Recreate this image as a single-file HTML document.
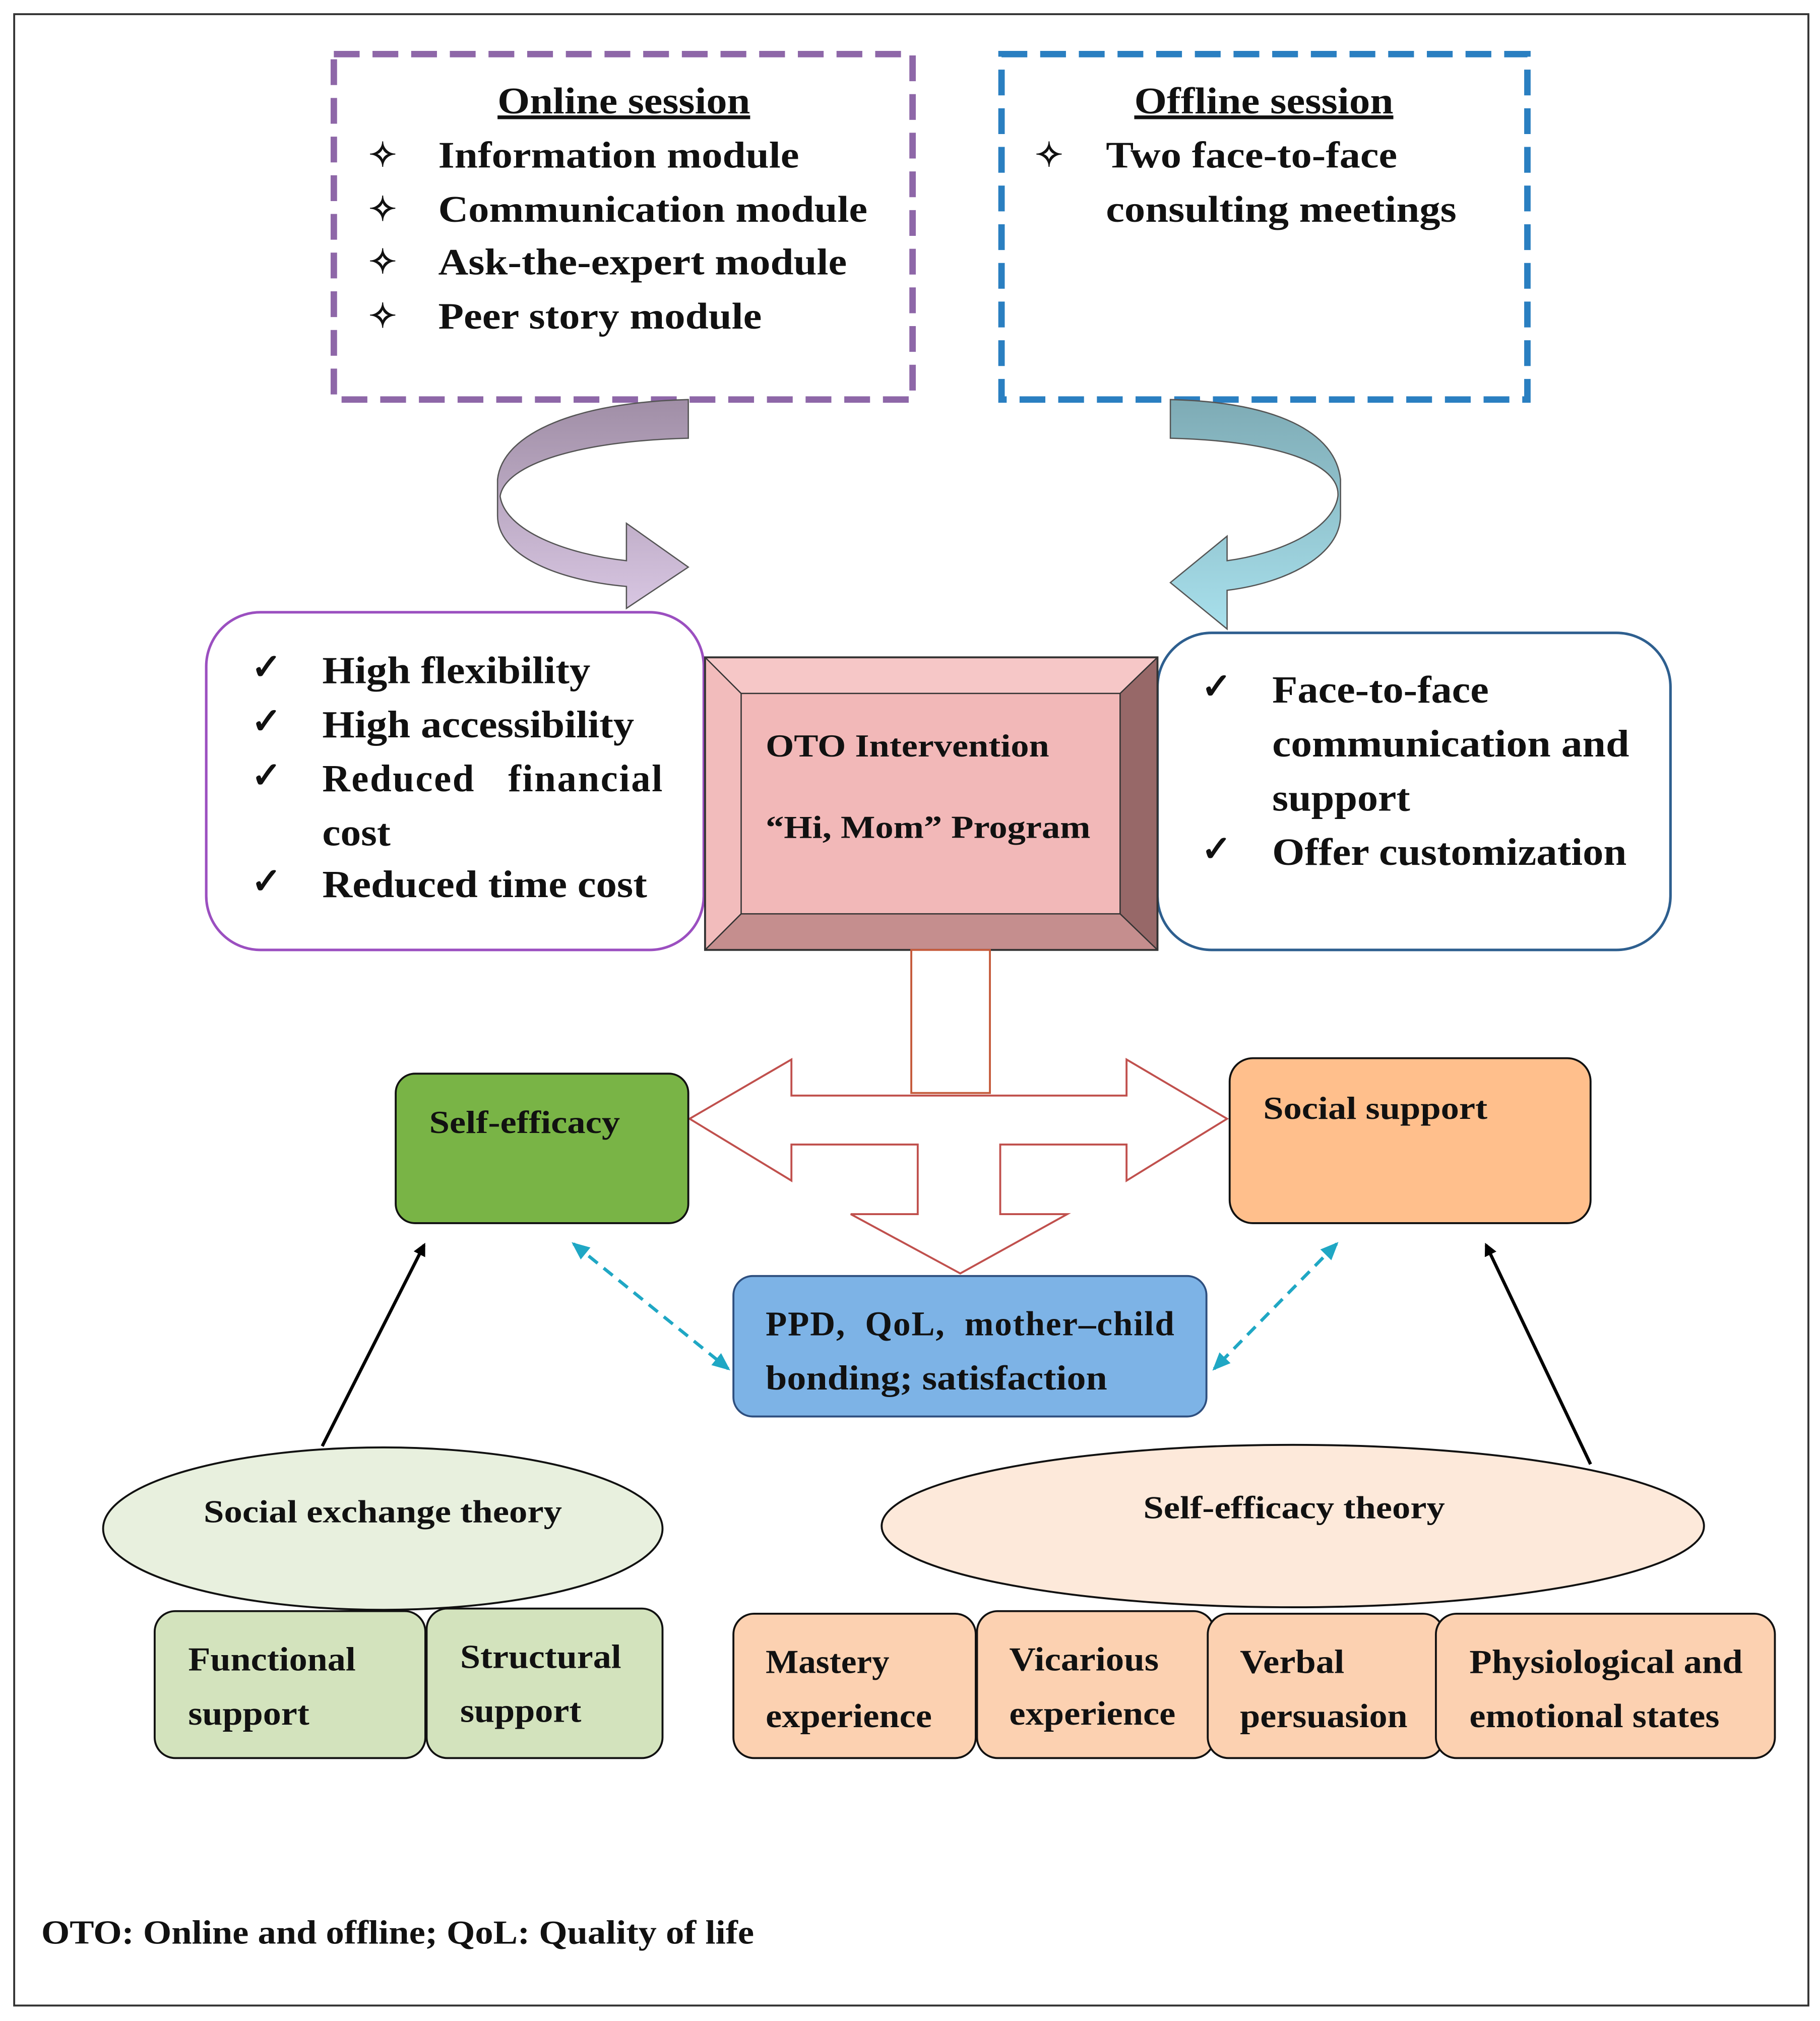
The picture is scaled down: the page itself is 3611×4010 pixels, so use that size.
<!DOCTYPE html>
<html><head><meta charset="utf-8"><style>
html,body{margin:0;padding:0;background:#fff;}
svg{display:block;}
text{font-family:"Liberation Serif",serif;font-weight:bold;fill:#111;}
</style></head><body>
<svg width="3611" height="4010" viewBox="0 0 1412 1568" preserveAspectRatio="none" xmlns="http://www.w3.org/2000/svg">
<defs>
<linearGradient id="gp" x1="0" y1="0" x2="0" y2="1"><stop offset="0" stop-color="#a08ea6"/><stop offset="1" stop-color="#d8c6e2"/></linearGradient>
<linearGradient id="gb" x1="0" y1="0" x2="0" y2="1"><stop offset="0" stop-color="#7eabb5"/><stop offset="1" stop-color="#a8e0ec"/></linearGradient>
<marker id="ah" markerWidth="10" markerHeight="10" refX="8" refY="5" orient="auto" markerUnits="userSpaceOnUse"><path d="M0,0 L10,5 L0,10 Z" fill="#000"/></marker>
<marker id="ac" markerWidth="14" markerHeight="12" refX="12" refY="6" orient="auto-start-reverse" markerUnits="userSpaceOnUse"><path d="M0,0 L14,6 L0,12 Z" fill="#1fa7c4"/></marker>
</defs>
<rect x="0" y="0" width="1412" height="1568" fill="#fff"/>
<rect x="11" y="11" width="1392" height="1545" fill="none" stroke="#333" stroke-width="1.5"/>

<g lengthAdjust="spacingAndGlyphs">
<!-- Online session -->
<rect x="259" y="42" width="449" height="268" fill="none" stroke="#8e67a8" stroke-width="5" stroke-dasharray="20,10"/>
<text x="386" y="88" font-size="29" textLength="196" lengthAdjust="spacingAndGlyphs" text-decoration="underline">Online session</text>
<text x="286" y="129" font-size="26">✧</text><text x="340" y="130" font-size="29" textLength="280" lengthAdjust="spacingAndGlyphs">Information module</text>
<text x="286" y="171" font-size="26">✧</text><text x="340" y="172" font-size="29" textLength="333" lengthAdjust="spacingAndGlyphs">Communication module</text>
<text x="286" y="212" font-size="26">✧</text><text x="340" y="213" font-size="29" textLength="317" lengthAdjust="spacingAndGlyphs">Ask-the-expert module</text>
<text x="286" y="254" font-size="26">✧</text><text x="340" y="255" font-size="29" textLength="251" lengthAdjust="spacingAndGlyphs">Peer story module</text>

<!-- Offline session -->
<rect x="777" y="42" width="408" height="268" fill="none" stroke="#2a7fc1" stroke-width="5" stroke-dasharray="20,10"/>
<text x="880" y="88" font-size="29" textLength="201" lengthAdjust="spacingAndGlyphs" text-decoration="underline">Offline session</text>
<text x="803" y="129" font-size="26">✧</text><text x="858" y="130" font-size="29" textLength="226" lengthAdjust="spacingAndGlyphs">Two face-to-face</text>
<text x="858" y="172" font-size="29" textLength="272" lengthAdjust="spacingAndGlyphs">consulting meetings</text>
</g>

<!-- curved arrows -->
<path d="M534,310 L534,340 C450,342 392,360 388,385 C392,412 440,430 486,435 L486,406 L534,440 L486,472 L486,455 C430,450 386,430 386,400 L386,372 C390,335 450,312 534,310 Z" fill="url(#gp)" stroke="#555" stroke-width="1"/>
<path d="M908,310 L908,340 C992,342 1040,360 1038,385 C1034,412 990,430 952,435 L952,416 L908,452 L952,488 L952,458 C1000,452 1040,430 1040,400 L1040,372 C1036,335 990,312 908,310 Z" fill="url(#gb)" stroke="#555" stroke-width="1"/>

<!-- left rounded box -->
<rect x="160" y="475" width="386" height="262" rx="42" fill="#fff" stroke="#9b4fc0" stroke-width="2"/>
<text x="195" y="527" font-size="28">✓</text><text x="250" y="530" font-size="30" textLength="208" lengthAdjust="spacingAndGlyphs">High flexibility</text>
<text x="195" y="569" font-size="28">✓</text><text x="250" y="572" font-size="30" textLength="242" lengthAdjust="spacingAndGlyphs">High accessibility</text>
<text x="195" y="611" font-size="28">✓</text><text x="250" y="614" font-size="30" textLength="264" lengthAdjust="spacing">Reduced&#160;&#160; financial</text>
<text x="250" y="656" font-size="30" textLength="53" lengthAdjust="spacingAndGlyphs">cost</text>
<text x="195" y="693" font-size="28">✓</text><text x="250" y="696" font-size="30" textLength="252" lengthAdjust="spacingAndGlyphs">Reduced time cost</text>

<!-- right rounded box -->
<rect x="898" y="491" width="398" height="246" rx="42" fill="#fff" stroke="#2e5f8f" stroke-width="2"/>
<text x="932" y="542" font-size="28">✓</text><text x="987" y="545" font-size="30" textLength="168" lengthAdjust="spacingAndGlyphs">Face-to-face</text>
<text x="987" y="587" font-size="30" textLength="277" lengthAdjust="spacingAndGlyphs">communication and</text>
<text x="987" y="629" font-size="30" textLength="107" lengthAdjust="spacingAndGlyphs">support</text>
<text x="932" y="668" font-size="28">✓</text><text x="987" y="671" font-size="30" textLength="275" lengthAdjust="spacingAndGlyphs">Offer customization</text>

<!-- center bevel box -->
<polygon points="547,510 898,510 869,538 575,538" fill="#f6c7c7"/>
<polygon points="547,510 575,538 575,709 547,737" fill="#f2bcbc"/>
<polygon points="898,510 898,737 869,709 869,538" fill="#976868"/>
<polygon points="547,737 575,709 869,709 898,737" fill="#c58e8e"/>
<rect x="575" y="538" width="294" height="171" fill="#f2b8b8"/>
<rect x="547" y="510" width="351" height="227" fill="none" stroke="#333" stroke-width="1.5"/>
<rect x="575" y="538" width="294" height="171" fill="none" stroke="#333" stroke-width="1"/>
<line x1="547" y1="510" x2="575" y2="538" stroke="#333"/><line x1="898" y1="510" x2="869" y2="538" stroke="#333"/>
<line x1="547" y1="737" x2="575" y2="709" stroke="#333"/><line x1="898" y1="737" x2="869" y2="709" stroke="#333"/>
<text x="594" y="587" font-size="25" textLength="220" lengthAdjust="spacingAndGlyphs">OTO Intervention</text>
<text x="594" y="650" font-size="25" textLength="252" lengthAdjust="spacingAndGlyphs">“Hi, Mom” Program</text>

<!-- stem and three-way arrow -->
<rect x="707" y="737" width="61" height="111" fill="#fff" stroke="#c55a3a" stroke-width="1.5"/>
<path d="M535,868 L614,822 L614,850 L874,850 L874,822 L952,868 L874,916 L874,888 L776,888 L776,942 L828,942 L745,988 L660,942 L712,942 L712,888 L614,888 L614,916 Z" fill="#fff" stroke="#c0504d" stroke-width="1.5"/>

<!-- self-efficacy / social support -->
<rect x="307" y="833" width="227" height="116" rx="15" fill="#79b446" stroke="#111" stroke-width="1.5"/>
<text x="333" y="879" font-size="25" textLength="148" lengthAdjust="spacingAndGlyphs">Self-efficacy</text>
<rect x="954" y="821" width="280" height="128" rx="18" fill="#ffbf8c" stroke="#111" stroke-width="1.5"/>
<text x="980" y="868" font-size="25" textLength="174" lengthAdjust="spacingAndGlyphs">Social support</text>

<!-- PPD box -->
<rect x="569" y="990" width="367" height="109" rx="15" fill="#7db3e6" stroke="#2e4f7f" stroke-width="1.5"/>
<text x="594" y="1036" font-size="27" textLength="317" lengthAdjust="spacing">PPD,&#160; QoL,&#160; mother–child</text>
<text x="594" y="1078" font-size="27" textLength="265" lengthAdjust="spacingAndGlyphs">bonding; satisfaction</text>

<!-- dashed cyan arrows -->
<line x1="445" y1="965" x2="565" y2="1062" stroke="#1fa7c4" stroke-width="2.5" stroke-dasharray="9,6" marker-start="url(#ac)" marker-end="url(#ac)"/>
<line x1="1037" y1="965" x2="942" y2="1062" stroke="#1fa7c4" stroke-width="2.5" stroke-dasharray="9,6" marker-start="url(#ac)" marker-end="url(#ac)"/>

<!-- black arrows -->
<line x1="250" y1="1122" x2="329" y2="966" stroke="#000" stroke-width="2.5" marker-end="url(#ah)"/>
<line x1="1234" y1="1136" x2="1153" y2="966" stroke="#000" stroke-width="2.5" marker-end="url(#ah)"/>

<!-- ellipses -->
<ellipse cx="297" cy="1186" rx="217" ry="63" fill="#e8f0de" stroke="#111" stroke-width="1.5"/>
<text x="158" y="1181" font-size="25" textLength="278" lengthAdjust="spacingAndGlyphs">Social exchange theory</text>
<ellipse cx="1003" cy="1184" rx="319" ry="63" fill="#fde9da" stroke="#111" stroke-width="1.5"/>
<text x="887" y="1178" font-size="25" textLength="234" lengthAdjust="spacingAndGlyphs">Self-efficacy theory</text>

<!-- bottom boxes -->
<rect x="120" y="1250" width="210" height="114" rx="16" fill="#d3e3bd" stroke="#111" stroke-width="1.5"/>
<text x="146" y="1296" font-size="26" textLength="130" lengthAdjust="spacingAndGlyphs">Functional</text><text x="146" y="1338" font-size="26" textLength="94" lengthAdjust="spacingAndGlyphs">support</text>
<rect x="331" y="1248" width="183" height="116" rx="16" fill="#d3e3bd" stroke="#111" stroke-width="1.5"/>
<text x="357" y="1294" font-size="26" textLength="125" lengthAdjust="spacingAndGlyphs">Structural</text><text x="357" y="1336" font-size="26" textLength="94" lengthAdjust="spacingAndGlyphs">support</text>

<rect x="569" y="1252" width="188" height="112" rx="16" fill="#fcd1b1" stroke="#111" stroke-width="1.5"/>
<text x="594" y="1298" font-size="26" textLength="96" lengthAdjust="spacingAndGlyphs">Mastery</text><text x="594" y="1340" font-size="26" textLength="129" lengthAdjust="spacingAndGlyphs">experience</text>
<rect x="758" y="1250" width="184" height="114" rx="16" fill="#fcd1b1" stroke="#111" stroke-width="1.5"/>
<text x="783" y="1296" font-size="26" textLength="116" lengthAdjust="spacingAndGlyphs">Vicarious</text><text x="783" y="1338" font-size="26" textLength="129" lengthAdjust="spacingAndGlyphs">experience</text>
<rect x="937" y="1252" width="183" height="112" rx="16" fill="#fcd1b1" stroke="#111" stroke-width="1.5"/>
<text x="962" y="1298" font-size="26" textLength="81" lengthAdjust="spacingAndGlyphs">Verbal</text><text x="962" y="1340" font-size="26" textLength="130" lengthAdjust="spacingAndGlyphs">persuasion</text>
<rect x="1114" y="1252" width="263" height="112" rx="16" fill="#fcd1b1" stroke="#111" stroke-width="1.5"/>
<text x="1140" y="1298" font-size="26" textLength="212" lengthAdjust="spacingAndGlyphs">Physiological and</text><text x="1140" y="1340" font-size="26" textLength="194" lengthAdjust="spacingAndGlyphs">emotional states</text>

<text x="32" y="1508" font-size="26" textLength="553" lengthAdjust="spacingAndGlyphs">OTO: Online and offline; QoL: Quality of life</text>
</svg>
</body></html>
